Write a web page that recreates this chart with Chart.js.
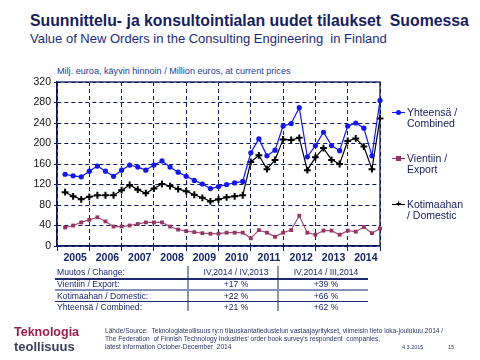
<!DOCTYPE html>
<html>
<head>
<meta charset="utf-8">
<script src="https://cdn.jsdelivr.net/npm/chart.js@4.4.1/dist/chart.umd.min.js"></script>
<style>
  body { margin: 0; background: #fff; font-family: 'Liberation Sans', Arial, sans-serif; }
  #page { position: relative; width: 480px; height: 360px; overflow: hidden; }
  #chartBox { position: absolute; left: 0; top: 0; width: 480px; height: 360px; }
  .t { position: absolute; white-space: nowrap; line-height: 1; }
  .title { left: 30px; top: 13px; font-size: 15.8px; font-weight: bold; color: #17215e; }
  .sub { left: 30px; top: 32px; font-size: 13px; color: #1d2b7a; }
  .unit { left: 57px; top: 67px; font-size: 9.1px; color: #23409a; }
  .leg { position: absolute; left: 392px; font-size: 10.5px; color: #141c5c; line-height: 10.6px; }
  .leg .ln { position: absolute; left: 0; width: 13px; height: 1px; }
  .leg .mk { position: absolute; }
  .leg .tx { position: absolute; left: 15px; white-space: nowrap; }
  .tab { position: absolute; font-size: 8.6px; color: #1d2a6e; white-space: nowrap; line-height: 1; }
  .hr { position: absolute; left: 55px; width: 313px; }
  .vr { position: absolute; top: 266px; height: 45px; width: 2px; background: #8d95ad; }
  .foot { position: absolute; left: 105px; font-size: 6.6px; color: #2b3563; white-space: nowrap; line-height: 1; }
  .logo { position: absolute; font-weight: bold; white-space: nowrap; line-height: 1; }
</style>
</head>
<body>
<div id="page">
  <div class="t title">Suunnittelu- ja konsultointialan uudet tilaukset&nbsp; Suomessa</div>
  <div class="t sub">Value of New Orders in the Consulting Engineering&nbsp; in Finland</div>
  <div class="t unit">Milj. euroa, käyvin hinnoin / Million euros, at current prices</div>

  <div id="chartBox"><canvas id="myChart"></canvas></div>

  <div class="leg" style="top:106px">
    <div class="ln" style="top:6px;background:#1414ff"></div>
    <div class="mk" style="left:4px;top:4px;width:5px;height:5px;border-radius:50%;background:#1414ff"></div>
    <div class="tx" style="top:1px">Yhteensä /<br>Combined</div>
  </div>
  <div class="leg" style="top:152px">
    <div class="ln" style="top:6px;background:#993366"></div>
    <div class="mk" style="left:4px;top:4px;width:5px;height:5px;background:#993366"></div>
    <div class="tx" style="top:1px">Vientiin /<br>Export</div>
  </div>
  <div class="leg" style="top:198px">
    <div class="ln" style="top:6px;background:#000"></div>
    <div class="mk" style="left:4px;top:4px;width:5px;height:5px;font-size:9px;line-height:5px;font-weight:bold;color:#000;text-align:center">+</div>
    <div class="tx" style="top:1px">Kotimaahan<br>/ Domestic</div>
  </div>

  <div class="vr" style="left:187px"></div>
  <div class="vr" style="left:277px"></div>
  <div class="hr" style="top:278px;height:1.5px;background:#1d2a6e"></div>
  <div class="hr" style="top:289px;height:2px;background:#8592b8"></div>
  <div class="hr" style="top:301px;height:1px;background:#1d2a6e"></div>
  <div id="table"></div>

  <div class="logo" style="left:14px;top:326px;font-size:12.5px;color:#9e1f4a">Teknologia</div>
  <div class="logo" style="left:14px;top:340px;font-size:13px;color:#3a3f58">teollisuus</div>
  <div class="foot" style="top:328px">Lähde/Source:&nbsp; Teknologiateollisuus ry:n tilauskantatiedustelun vastaajayritykset, viimeisin tieto loka-joulukuu 2014 /</div>
  <div class="foot" style="top:336px">The Federation&nbsp; of Finnish Technology Industries' order book survey's respondent&nbsp; companies,</div>
  <div class="foot" style="top:344px">latest information October-December&nbsp; 2014</div>
  <div class="foot" style="left:402px;top:345px;font-size:5.5px">4.3.2015</div>
  <div class="foot" style="left:448px;top:345px;font-size:5.5px">15</div>
</div>

<script>
'use strict';

let years = ['2005', '2006', '2007', '2008', '2009', '2010', '2011', '2012', '2013', '2014'];
let quarters = ['I', 'II', 'III', 'IV'];

// quarterly values, million euros
let combined = [
  140, 137, 135, 146, 156, 146, 136, 148, 158, 154,
  148, 158, 166, 154, 144, 136, 128, 121, 112, 116,
  120, 123, 126, 182, 209, 176, 187, 234, 239, 270,
  174, 196, 222, 196, 186, 234, 240, 230, 176, 284
];
let exportOrders = [
  36, 40, 46, 51, 56, 48, 38, 38, 40, 43,
  46, 46, 46, 38, 32, 29, 27, 25, 24, 24,
  26, 26, 26, 15, 31, 26, 18, 26, 31, 59,
  26, 22, 30, 30, 22, 30, 28, 37, 25, 34
];
let domestic = [
  105, 97, 91, 96, 99, 99, 99, 109, 119, 110,
  103, 112, 121, 117, 111, 107, 100, 94, 87, 91,
  95, 97, 99, 164, 177, 150, 168, 208, 207, 211,
  148, 173, 191, 168, 160, 205, 210, 194, 150, 249
];

let seriesNames = ['Yhteensä / Combined', 'Vientiin / Export', 'Kotimaahan / Domestic'];
let yTickMax = 320;
let yTickStep = 20;

let changeRows = ['Vientiin / Export:', 'Kotimaahan  / Domestic:', 'Yhteensä  / Combined:'];
let changeHeaders = ['Muutos / Change:', 'IV,2014  / IV,2013', 'IV,2014  / III,2014'];
let changeYoY = ['+17 %', '+22 %', '+21 %'];
let changeQoQ = ['+39 %', '+66 %', '+62 %'];

let navy = '#0d1a5c';

// first slot is empty so 2005 Q1 sits one step in from the axis
let labels = [''];
for (let i = 0; i < years.length; i++) {
  for (let q = 0; q < quarters.length; q++) {
    labels.push(years[i] + ' ' + quarters[q]);
  }
}

function withGap(values) {
  return [null].concat(values);
}

// change table
let table = document.getElementById('table');
let rowTops = [268, 280, 291.5, 303];
let allRows = [changeHeaders].concat(changeRows.map(function (name, i) {
  return [name, changeYoY[i], changeQoQ[i]];
}));
for (let r = 0; r < allRows.length; r++) {
  let cells = allRows[r];
  let lefts = [57, 236, 326];
  for (let c = 0; c < cells.length; c++) {
    let div = document.createElement('div');
    div.className = 'tab';
    div.textContent = cells[c];
    div.style.top = rowTops[r] + 'px';
    div.style.left = lefts[c] + 'px';
    if (c > 0) {
      div.style.transform = 'translateX(-50%)';
    }
    table.appendChild(div);
  }
}

let frame = {
  id: 'frame',
  beforeDatasetsDraw(chart) {
    let a = chart.chartArea;
    let ctx = chart.ctx;
    ctx.save();
    ctx.strokeStyle = navy;
    ctx.lineWidth = 1.3;
    ctx.strokeRect(a.left, a.top, a.right - a.left, a.bottom - a.top);
    ctx.restore();
  }
};

const ctx = document.getElementById('myChart');

new Chart(ctx, {
  type: 'line',
  data: {
    labels: labels,
    datasets: [{
      label: seriesNames[0],
      data: withGap(combined),
      borderColor: '#1414ff',
      backgroundColor: '#1414ff',
      borderWidth: 1.2,
      pointStyle: 'circle',
      pointRadius: 2.6,
      pointBorderWidth: 0,
      clip: false
    }, {
      label: seriesNames[1],
      data: withGap(exportOrders),
      borderColor: '#a0527a',
      backgroundColor: '#993366',
      borderWidth: 1.2,
      pointStyle: 'rect',
      pointRadius: 2.7,
      pointBorderWidth: 0,
      clip: false
    }, {
      label: seriesNames[2],
      data: withGap(domestic),
      borderColor: '#000',
      backgroundColor: '#000',
      borderWidth: 1.2,
      pointStyle: 'cross',
      pointRadius: 3.4,
      pointBorderWidth: 2,
      clip: false
    }]
  },
  options: {
    responsive: true,
    maintainAspectRatio: false,
    animation: false,
    layout: {
      padding: { left: 32, right: 100, top: 82, bottom: 94 }
    },
    plugins: {
      legend: { display: false },
      tooltip: { enabled: false }
    },
    scales: {
      x: {
        type: 'category',
        offset: false,
        afterFit: function (scale) { scale.height = 20; },
        grid: {
          color: function (c) { return c.index % 4 === 0 ? navy : 'rgba(0,0,0,0)'; },
          tickColor: function (c) { return c.index % 4 === 0 ? navy : 'rgba(0,0,0,0)'; },
          lineWidth: 1,
          tickLength: 5
        },
        border: { display: true, color: navy, width: 1.3, dash: [4, 3] },
        ticks: {
          autoSkip: false,
          maxRotation: 0,
          padding: 1,
          labelOffset: 2,
          color: '#17236b',
          font: { family: 'Liberation Sans', size: 10.5, weight: 'bold' },
          callback: function (value, index) {
            return index % 4 === 2 ? years[(index - 2) / 4] : '';
          }
        }
      },
      y: {
        min: 0,
        max: yTickMax,
        afterFit: function (scale) { scale.width = 25; },
        grid: {
          color: navy,
          lineWidth: 1,
          tickLength: 3
        },
        border: { display: true, color: navy, width: 1.3, dash: [4, 3] },
        ticks: {
          stepSize: yTickStep,
          padding: 3,
          color: '#111',
          font: { family: 'Liberation Sans', size: 10.5 }
        }
      }
    }
  },
  plugins: [frame]
});
</script>
</body>
</html>
